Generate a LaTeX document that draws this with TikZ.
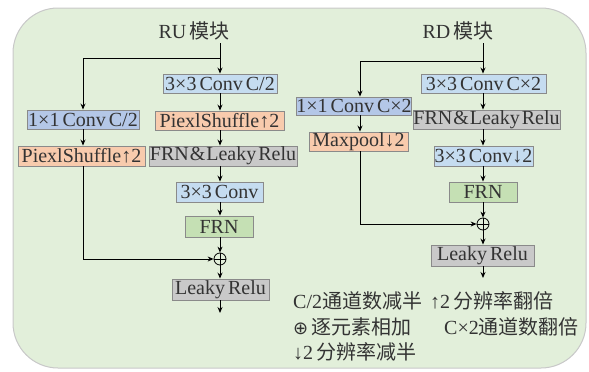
\documentclass[tikz,border=0pt]{standalone}
\usepackage{fontspec}
\setmainfont{Liberation Serif}
\newfontfamily\cjk{Noto Sans CJK SC}
\newfontfamily\symf{DejaVu Sans}
\usetikzlibrary{arrows.meta}
\definecolor{bgc}{HTML}{E2EFDA}
\definecolor{bgline}{HTML}{C8C8C8}
\definecolor{blueL}{HTML}{C5DCF0}
\definecolor{blueD}{HTML}{B4C7E7}
\definecolor{orangeB}{HTML}{F8CBAD}
\definecolor{grayB}{HTML}{C9C9C9}
\definecolor{greenB}{HTML}{C5E0B4}
\definecolor{boxline}{HTML}{8A8A8A}
\definecolor{txt}{HTML}{333333}
\begin{document}
\begin{tikzpicture}[x=1pt,y=-1pt,
  font=\fontsize{20}{22}\selectfont, text=txt,
  execute at begin node={\spaceskip=3pt plus 1pt\relax},
  box/.style={draw=boxline, line width=0.9pt, inner sep=0pt, align=center},
  bl/.style={box, fill=blueL},
  bd/.style={box, fill=blueD},
  og/.style={box, fill=orangeB},
  gy/.style={box, fill=grayB},
  gn/.style={box, fill=greenB},
  addc/.style={circle, draw=black, line width=0.8pt, minimum size=12pt, inner sep=0pt},
  conn/.style={line width=0.9pt, draw=black},
  arr/.style={conn, -{Stealth[length=6pt,width=5pt]}},
  lbl/.style={inner sep=0pt, anchor=west}
]
\useasboundingbox (0,0) rectangle (589,372);
\fill[bgc, draw=bgline, line width=1pt, rounded corners=45pt] (13,8) rectangle (586,368);

% ---------------- RU ----------------
\node[inner sep=0pt] (rut) at (194,31) {RU {\cjk 模块}};
\coordinate (rutop) at (220,43);
\coordinate (rubr) at (220,58);
\coordinate (rubl) at (83,58);
\node[bl, minimum width=114pt, minimum height=19pt] (ru1) at (220,83.5) {3×3 Conv C/2};
\node[og, minimum width=129pt, minimum height=19pt] (ru2) at (219.5,120.5) {PiexlShuffle↑2};
\node[gy, minimum width=148pt, minimum height=20pt] (ru3) at (223,156) {FRN\kern1pt\&\kern1pt Leaky\kern2pt Relu};
\node[bl, minimum width=87pt, minimum height=20pt] (ru4) at (219.5,192) {3×3 Conv};
\node[gn, minimum width=68pt, minimum height=21pt] (ru5) at (219,226.5) {FRN};
\node[addc] (ruadd) at (220,259) {};
\node[gy, minimum width=97pt, minimum height=21pt] (ru6) at (220.5,289.5) {Leaky Relu};
\coordinate (ruout) at (220,313);
\node[bd, minimum width=112pt, minimum height=19pt] (rl1) at (83,119.5) {1×1 Conv C/2};
\node[og, minimum width=127pt, minimum height=20pt] (rl2) at (81.5,156) {PiexlShuffle↑2};
\coordinate (rlc) at (83,259);

\draw[arr] (rutop) -- (rutop |- ru1.north);
\draw[conn] (rubr) -- (rubl);
\draw[arr] (rubl) -- (rubl |- rl1.north);
\draw[arr] (rl1.south -| rubl) -- (rubl |- rl2.north);
\draw[conn] (rl2.south -| rubl) -- (rlc);
\draw[arr] (rlc) -- (ruadd.west);
\draw[arr] (ru1.south -| rutop) -- (rutop |- ru2.north);
\draw[arr] (ru2.south -| rutop) -- (rutop |- ru3.north);
\draw[arr] (ru3.south -| rutop) -- (rutop |- ru4.north);
\draw[arr] (ru4.south -| rutop) -- (rutop |- ru5.north);
\draw[arr] (ru5.south -| rutop) -- (ruadd.north);
\draw[arr] (ruadd.south) -- (rutop |- ru6.north);
\draw[arr] (ru6.south -| rutop) -- (ruout);
\draw[line width=0.7pt] (ruadd.north) -- (ruadd.south) (ruadd.west) -- (ruadd.east);

% ---------------- RD ----------------
\node[inner sep=0pt] (rdt) at (458,31) {RD {\cjk 模块}};
\coordinate (rdtop) at (483,43);
\coordinate (rdbr) at (483,61);
\coordinate (rdbl) at (360,61);
\node[bl, minimum width=125pt, minimum height=19pt] (d1) at (483.5,83.5) {3×3 Conv C×2};
\node[gy, minimum width=147pt, minimum height=19pt] (d2) at (486.5,119.5) {FRN\kern1pt\&\kern1pt Leaky\kern2pt Relu};
\node[bl, minimum width=99pt, minimum height=20pt] (d3) at (483.5,156) {3×3 Conv↓2};
\node[gn, minimum width=68pt, minimum height=20pt] (d4) at (483,192) {FRN};
\node[addc] (rdadd) at (483,224) {};
\node[gy, minimum width=103pt, minimum height=21pt] (d5) at (482.5,255.5) {Leaky Relu};
\coordinate (rdout) at (483,278);
\node[bd, minimum width=114pt, minimum height=18pt] (dl1) at (354,106) {1×1 Conv C×2};
\node[og, minimum width=99pt, minimum height=19pt] (dl2) at (358.5,141.5) {Maxpool↓2};
\coordinate (dlc) at (360,224);

\draw[arr] (rdtop) -- (rdtop |- d1.north);
\draw[conn] (rdbr) -- (rdbl);
\draw[arr] (rdbl) -- (rdbl |- dl1.north);
\draw[arr] (dl1.south -| rdbl) -- (rdbl |- dl2.north);
\draw[conn] (dl2.south -| rdbl) -- (dlc);
\draw[arr] (dlc) -- (rdadd.west);
\draw[arr] (d1.south -| rdtop) -- (rdtop |- d2.north);
\draw[arr] (d2.south -| rdtop) -- (rdtop |- d3.north);
\draw[arr] (d3.south -| rdtop) -- (rdtop |- d4.north);
\draw[arr] (d4.south -| rdtop) -- (rdadd.north);
\draw[arr] (rdadd.south) -- (rdtop |- d5.north);
\draw[arr] (d5.south -| rdtop) -- (rdout);
\draw[line width=0.7pt] (rdadd.north) -- (rdadd.south) (rdadd.west) -- (rdadd.east);

% ---------------- legend ----------------
\node[lbl] (lg1) at (293,301) {C/2{\cjk 通道数减半}};
\node[lbl] (lg2) at (430,301) {↑2 {\cjk 分辨率翻倍}};
\node[lbl] (lg3) at (293,327) {{\symf\fontsize{18}{20}\selectfont ⊕} {\cjk 逐元素相加}};
\node[lbl] (lg4) at (444,327) {C×2{\cjk 通道数翻倍}};
\node[lbl] (lg5) at (293,352) {↓2 {\cjk 分辨率减半}};
\end{tikzpicture}
\end{document}
